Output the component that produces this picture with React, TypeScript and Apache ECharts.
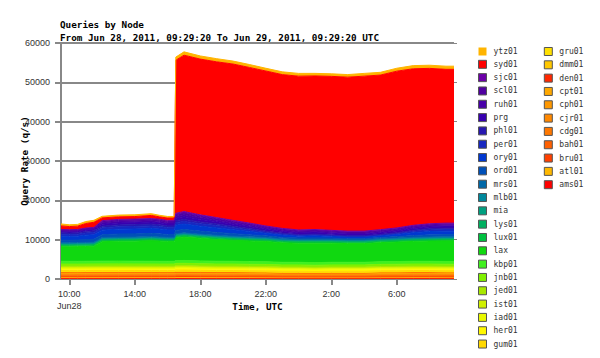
import React, { useEffect, useRef } from "react";
import * as echarts from "echarts";

// hours since 00:00 UTC Jun 28, 2011
const TIMES = [9.4889, 10, 10.5, 11, 11.5, 12, 13, 14, 15, 15.5, 16, 16.4, 16.5, 17, 18, 19, 20, 21, 22, 23, 24, 25, 26, 27, 28, 29, 30, 31, 32, 33, 33.4889];
const TICK_HOURS = [10, 14, 18, 22, 26, 30];
const Y_MAX = 60000;
const Y_STEP = 10000;

// stack, bottom to top (q/s)
const ams01 = [150,155,150,150,145,150, 155,150,150,150,150,150, 160,160,155,150,150,150,145, 140,140,135,140,140,140, 145,145,150,150,145,145];
const atl01 = [200,200,195,200,205,200, 200,205,200,200,200,200, 210,210,205,200,200,200,195, 185,185,180,185,185,185, 195,195,200,200,195,195];
const bru01 = [250,245,250,250,255,250, 250,250,255,250,250,250, 260,265,255,250,250,245,240, 230,230,225,230,230,230, 245,245,250,250,245,245];
const bah01 = [200,200,200,205,200,200, 205,200,200,200,200,200, 210,210,205,200,200,195,195, 185,185,180,185,185,185, 195,195,200,200,195,195];
const cdg01 = [250,250,245,250,250,255, 250,250,255,250,250,250, 265,265,255,250,250,245,240, 230,230,225,230,230,230, 245,245,250,250,245,245];
const cjr01 = [200,195,200,200,200,205, 200,200,200,200,200,200, 210,210,205,200,200,195,195, 185,185,180,185,185,185, 195,195,200,200,195,195];
const cph01 = [150,150,150,150,155,150, 150,150,150,150,150,150, 155,160,155,150,150,145,145, 135,135,130,135,135,135, 145,145,150,150,145,145];
const cpt01 = [150,150,145,150,150,150, 150,155,150,150,150,150, 155,155,150,150,150,145,145, 140,140,135,140,140,140, 145,145,150,150,145,145];
const den01 = [150,150,150,150,150,150, 155,150,150,150,150,150, 160,160,155,150,150,145,145, 140,140,135,140,140,140, 145,145,150,150,145,145];
const dmm01 = [100,100,100,100,100,100, 100,100,100,100,100,100, 105,105,100,100,100,100,95, 90,90,85,90,90,90, 100,100,100,100,100,100];
const gru01 = [100,100,100,100,100,100, 100,100,100,100,100,100, 105,105,100,100,100,100,95, 90,90,85,90,90,90, 100,100,100,100,100,100];
const gum01 = [250,250,250,250,250,255, 255,250,250,250,250,250, 260,260,255,250,250,245,245, 240,240,235,240,240,240, 245,250,250,250,250,250];
const her01 = [350,345,350,350,355,350, 350,355,350,350,350,350, 360,365,355,350,350,345,345, 340,340,335,340,340,340, 345,350,350,350,350,350];
const iad01 = [300,300,300,300,300,305, 305,300,300,300,300,300, 310,310,305,300,300,295,295, 290,290,285,290,290,290, 295,300,300,300,300,300];
const ist01 = [250,250,250,250,250,250, 255,250,250,250,250,250, 260,260,255,250,250,245,245, 240,240,235,240,240,240, 245,250,250,250,250,250];
const jed01 = [200,200,200,200,200,200, 200,200,200,200,200,200, 210,210,205,200,200,195,195, 190,190,185,190,190,190, 195,200,200,200,200,200];
const jnb01 = [550,545,550,550,555,560, 560,555,550,550,550,550, 570,575,565,555,550,545,540, 530,530,525,530,530,530, 540,545,550,550,550,550];
const kbp01 = [700,700,700,700,705,710, 710,705,700,700,700,700, 720,730,715,705,700,690,685, 670,670,665,670,670,670, 685,690,700,700,700,700];
const lax = [3700,3700,3750,3750,3800,4950, 5050,5100,5250,5150,5050,5050, 5750,5950,5750,5550,5350,5250,5150, 4950,4850,4950,4850,4750,4750, 4850,4950,5050,5150,5250,5250];
const lux01 = [350,350,350,350,350,350, 350,350,350,350,350,350, 360,360,355,350,350,350,345, 340,340,340,340,340,340, 345,350,350,350,350,350];
const lys01 = [200,200,200,200,200,200, 200,200,200,200,200,200, 210,210,205,200,200,200,200, 195,195,195,195,195,195, 200,200,200,200,200,200];
const mia = [150,150,150,150,150,150, 150,150,150,150,150,150, 155,155,150,150,150,150,150, 145,145,145,145,145,145, 150,150,150,150,150,150];
const mlb01 = [150,150,150,150,150,150, 150,150,150,150,150,150, 155,155,150,150,150,150,150, 145,145,145,145,145,145, 150,150,150,150,150,150];
const mrs01 = [200,200,200,200,200,200, 200,200,200,200,200,200, 205,205,200,200,200,200,200, 195,195,195,195,195,195, 200,200,200,200,200,200];
const ord01 = [625,610,610,700,725,725, 775,790,790,775,725,725, 825,850,775,725,625,525,400, 360,300,325,275,250,250, 260,340,450,525,540,540];
const ory01 = [1000,980,980,1120,1160,1160, 1240,1260,1260,1240,1160,1160, 1320,1360,1240,1160,1000,840,640, 580,480,520,440,400,400, 420,540,720,840,860,860];
const per01 = [500,490,490,560,580,580, 620,630,630,620,580,580, 660,680,620,580,500,420,320, 290,240,260,220,200,200, 210,270,360,420,430,430];
const phl01 = [375,370,370,420,435,435, 465,470,470,465,435,435, 495,510,465,435,375,315,240, 220,180,195,165,150,150, 160,200,270,315,320,320];
const prg = [300,300,300,300,300,500, 500,500,500,500,500,500, 650,700,650,550,520,500,450, 420,400,400,400,400,400, 420,420,440,440,450,450];
const ruh01 = [200,200,200,200,200,350, 350,350,350,350,350,350, 480,500,450,400,380,350,330, 300,290,290,290,290,290, 300,300,310,310,330,330];
const scl01 = [180,180,180,180,180,280, 280,280,280,280,280,280, 380,400,350,330,300,280,260, 240,230,230,230,230,230, 240,240,250,250,260,260];
const sjc01 = [170,170,170,170,170,270, 270,270,270,270,270,270, 390,400,350,320,300,270,260, 240,230,230,230,230,230, 240,240,250,250,260,260];
const syd01 = [900,800,850,1150,1300,700, 650,650,800,600,600,600, 38900,39750,39600,39600,39750,39550,39400, 39100,39100,39050,39150,39150,39400, 39300,39850,39800,39500,39100,39100];
const ytz01 = [500,450,450,500,500,400, 450,450,450,400,400,400, 800,850,800,800,750,750,700, 700,700,650,650,650,700, 700,750,800,800,800,800];

const STACK: [string, number[], string][] = [
  ["ams01", ams01, "#FF0000"],
  ["atl01", atl01, "#FFB800"],
  ["bru01", bru01, "#FF4000"],
  ["bah01", bah01, "#FF6000"],
  ["cdg01", cdg01, "#FF7800"],
  ["cjr01", cjr01, "#FF8800"],
  ["cph01", cph01, "#FF9800"],
  ["cpt01", cpt01, "#FFA800"],
  ["den01", den01, "#FF2800"],
  ["dmm01", dmm01, "#FFC800"],
  ["gru01", gru01, "#FFE000"],
  ["gum01", gum01, "#FFD800"],
  ["her01", her01, "#FFF800"],
  ["iad01", iad01, "#E8F800"],
  ["ist01", ist01, "#D0F000"],
  ["jed01", jed01, "#A8E800"],
  ["jnb01", jnb01, "#80F000"],
  ["kbp01", kbp01, "#40F020"],
  ["lax", lax, "#10D810"],
  ["lux01", lux01, "#00C040"],
  ["lys01", lys01, "#00B060"],
  ["mia", mia, "#00A080"],
  ["mlb01", mlb01, "#00889C"],
  ["mrs01", mrs01, "#0068A8"],
  ["ord01", ord01, "#0050B8"],
  ["ory01", ory01, "#0038D0"],
  ["per01", per01, "#1828C0"],
  ["phl01", phl01, "#2818B0"],
  ["prg", prg, "#3800B0"],
  ["ruh01", ruh01, "#4800A8"],
  ["scl01", scl01, "#5000A0"],
  ["sjc01", sjc01, "#6C00A8"],
  ["syd01", syd01, "#FF0000"],
  ["ytz01", ytz01, "#FFB400"],
];

// legend order: first column top-down, then second column
const LEGEND_ORDER = ["ytz01","syd01","sjc01","scl01","ruh01","prg","phl01","per01","ory01","ord01","mrs01","mlb01","mia","lys01","lux01","lax","kbp01","jnb01","jed01","ist01","iad01","her01","gum01",
  "gru01","dmm01","den01","cpt01","cph01","cjr01","cdg01","bah01","bru01","atl01","ams01"];

const MONO = "'DejaVu Sans Mono', monospace";
const SANS = "'Liberation Sans', Arial, sans-serif";
const boldMono = { fontFamily: MONO, fontWeight: "bold" as const, fontSize: 9.3, color: "#000" };

export default function App() {
  const ref = useRef<HTMLDivElement>(null);
  useEffect(() => {
    const chart = echarts.init(ref.current!, null, { renderer: "svg" });
    chart.setOption({
      animation: false,
      backgroundColor: "#fff",
      title: [
        { text: "Queries by Node", left: 60, top: 20, padding: 0, textStyle: boldMono },
        { text: "From Jun 28, 2011, 09:29:20 To Jun 29, 2011, 09:29:20 UTC", left: 60, top: 33, padding: 0, textStyle: boldMono },
      ],
      legend: {
        orient: "vertical",
        left: 478,
        top: 47,
        height: 308,
        icon: "rect",
        itemWidth: 8,
        itemHeight: 8,
        itemGap: 4.32,
        padding: 0,
        selectedMode: false,
        textStyle: { fontFamily: MONO, fontSize: 8, lineHeight: 8, color: "#333", width: 46, padding: [0, 0, 0, 2] },
        itemStyle: { borderColor: "#555", borderWidth: 1 },
        data: LEGEND_ORDER.map((n) => (n === "ytz01" ? { name: n, itemStyle: { borderWidth: 0 } } : n)),
      },
      grid: { left: 61, top: 43, width: 393, height: 236 },
      xAxis: {
        type: "value",
        min: TIMES[0],
        max: TIMES[TIMES.length - 1],
        name: "Time, UTC",
        nameLocation: "middle",
        nameGap: 23,
        nameMoveOverlap: false,
        nameTextStyle: boldMono,
        axisLine: { show: false },
        axisTick: { show: true, length: 6, customValues: TICK_HOURS, lineStyle: { color: "#888", width: 2 } },
        axisLabel: {
          customValues: TICK_HOURS,
          margin: 9,
          fontFamily: SANS,
          fontSize: 9,
          lineHeight: 12,
          color: "#333",
          formatter: (v: number) => {
            const h = Math.round(v) % 24;
            const s = `${h}:00`;
            return Math.round(v) === 10 ? `${s}\nJun28` : s;
          },
        },
        splitLine: { show: false },
      },
      yAxis: [
        {
          type: "value",
          min: 0,
          max: Y_MAX,
          interval: Y_STEP,
          position: "left",
          name: "Query Rate (q/s)",
          nameLocation: "middle",
          nameGap: 32,
          nameMoveOverlap: false,
          nameTextStyle: boldMono,
          axisLine: { show: true, lineStyle: { color: "#888", width: 2 } },
          axisTick: { show: true, length: 6, lineStyle: { color: "#888", width: 2 } },
          axisLabel: { margin: 11, fontFamily: SANS, fontSize: 9, color: "#333", formatter: (v: number) => String(v) },
          splitLine: { show: true, lineStyle: { color: "#888", width: 2 } },
        },
        {
          type: "value",
          min: 0,
          max: Y_MAX,
          interval: Y_STEP,
          position: "right",
          axisLine: { show: false },
          axisTick: { show: true, length: 3, lineStyle: { color: "#888", width: 1 } },
          axisLabel: { show: false },
          splitLine: { show: false },
        },
      ],
      series: STACK.map(([name, values, color]) => ({
        name,
        type: "line",
        stack: "total",
        yAxisIndex: 0,
        // value first so that the stack runs on the y dimension
        data: TIMES.map((t, i) => [values[i], t]),
        encode: { x: 1, y: 0 },
        showSymbol: false,
        symbol: "none",
        silent: true,
        lineStyle: { width: 1, color },
        itemStyle: { color },
        areaStyle: { color, opacity: 1 },
        emphasis: { disabled: true },
      })),
    });
    return () => chart.dispose();
  }, []);
  return <div ref={ref} style={{ position: "fixed", left: 0, top: 0, width: 600, height: 358 }} />;
}
